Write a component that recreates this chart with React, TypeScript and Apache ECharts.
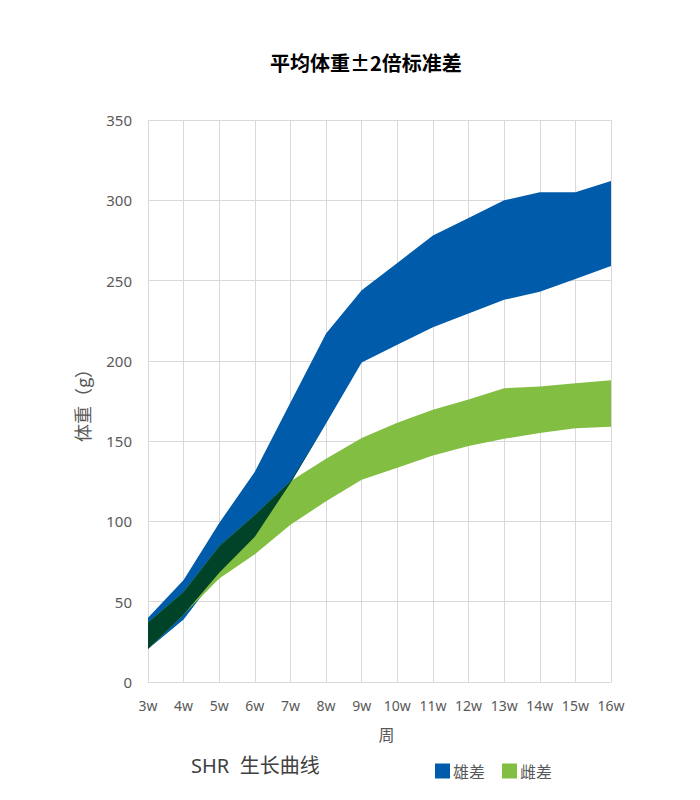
import React from 'react';
import { useEffect, useRef } from 'react';
import * as echarts from 'echarts';

// 周龄
const weeks = ['3w', '4w', '5w', '6w', '7w', '8w', '9w', '10w', '11w', '12w', '13w', '14w', '15w', '16w'];
// 雄性 平均体重 ±2SD 上下界
const maleHigh = [40, 63.5, 99, 131, 174, 217, 244, 261, 278, 289, 300, 305, 305, 312];
const maleLow = [20.5, 39, 68, 90.5, 124, 161, 199, 210, 221, 229.5, 238, 243, 251, 259];
// 雌性 平均体重 ±2SD 上下界
const femaleHigh = [37, 56, 84.5, 104, 125, 139, 152, 161.5, 169.5, 176, 183, 184, 186, 188];
const femaleLow = [20.5, 42, 64.5, 79.5, 98, 112.5, 126, 133.5, 141, 147, 151.5, 155, 158, 159];
const yTicks = [0, 50, 100, 150, 200, 250, 300, 350];

const BLUE = '#005BAA';
const GREEN = '#82BE41';
const DARK = '#004328';

const App: React.FC = () => {
  const chartRef = useRef<HTMLDivElement>(null);

  useEffect(() => {
    if (!chartRef.current) return;
    const chart = echarts.init(chartRef.current, undefined, { renderer: 'svg' });

    // 重叠区
    const overlapLow = maleLow.map((v, i) => Math.max(v, femaleLow[i]));
    const overlapBand = maleHigh.map((v, i) => Math.max(0, Math.min(v, femaleHigh[i]) - overlapLow[i]));

    const baseSeries = (stack: string, data: number[]) => ({
      type: 'line',
      stack,
      data,
      symbol: 'none',
      lineStyle: { width: 0, opacity: 0 },
      silent: true,
      z: 2,
    });
    const bandSeries = (name: string, stack: string, data: number[], color: string, z: number) => ({
      name,
      type: 'line',
      stack,
      data,
      symbol: 'none',
      itemStyle: { color },
      lineStyle: { width: 0, opacity: 0 },
      areaStyle: { color, opacity: 1 },
      z,
    });

    const option = {
      animation: false,
      backgroundColor: '#fff',
      textStyle: { fontFamily: '"Noto Sans", "Noto Sans CJK SC", sans-serif' },
      title: [
        {
          text: '平均体重±2倍标准差',
          left: 265,
          top: 47,
          textStyle: {
            fontSize: 20,
            fontWeight: 'bold',
            color: '#000',
            fontFamily: '"Noto Sans CJK SC", sans-serif',
          },
        },
        {
          text: 'SHR  生长曲线',
          left: 186,
          top: 750,
          textStyle: {
            fontSize: 20,
            fontWeight: 'normal',
            color: '#404040',
            fontFamily: '"Noto Sans", "Noto Sans CJK SC", sans-serif',
          },
        },
      ],
      legend: {
        data: ['雄差', '雌差'],
        left: 430,
        top: 758,
        icon: 'rect',
        itemWidth: 15,
        itemHeight: 15,
        itemGap: 17,
        textStyle: {
          fontSize: 16,
          color: '#595959',
          padding: [0, 0, 0, -2],
          fontFamily: '"Noto Sans CJK SC", sans-serif',
        },
      },
      grid: { left: 148, right: 89, top: 120, bottom: 118 },
      xAxis: {
        type: 'category',
        data: weeks,
        boundaryGap: false,
        name: '周',
        nameLocation: 'middle',
        nameGap: 44,
        nameTextStyle: {
          fontSize: 16,
          color: '#595959',
          padding: [0, 0, 0, 14],
          fontFamily: '"Noto Sans CJK SC", sans-serif',
        },
        axisLine: { show: true, lineStyle: { color: '#d9d9d9', width: 1 } },
        axisTick: { show: false },
        axisLabel: { fontSize: 14, color: '#595959', margin: 16 },
        splitLine: { show: true, lineStyle: { color: '#d9d9d9', width: 1 } },
      },
      yAxis: {
        type: 'value',
        min: yTicks[0],
        max: yTicks[yTicks.length - 1],
        interval: 50,
        name: '体重（g）',
        nameLocation: 'middle',
        nameGap: 57,
        nameTextStyle: {
          fontSize: 18,
          color: '#595959',
          fontFamily: '"Noto Sans CJK SC", sans-serif',
        },
        axisLine: { show: false },
        axisTick: { show: false },
        axisLabel: { fontSize: 15, color: '#595959', margin: 16 },
        splitLine: { show: true, lineStyle: { color: '#d9d9d9', width: 1 } },
      },
      series: [
        baseSeries('male', maleLow),
        bandSeries('雄差', 'male', maleHigh.map((v, i) => v - maleLow[i]), BLUE, 3),
        baseSeries('female', femaleLow),
        bandSeries('雌差', 'female', femaleHigh.map((v, i) => v - femaleLow[i]), GREEN, 4),
        baseSeries('overlap', overlapLow),
        bandSeries('重叠', 'overlap', overlapBand, DARK, 5),
      ],
    };

    chart.setOption(option);

    return () => {
      chart.dispose();
    };
  }, []);

  return (
    <div
      ref={chartRef}
      style={{ position: 'absolute', left: 0, top: 0, width: '700px', height: '800px' }}
    ></div>
  );
};

export default App;
